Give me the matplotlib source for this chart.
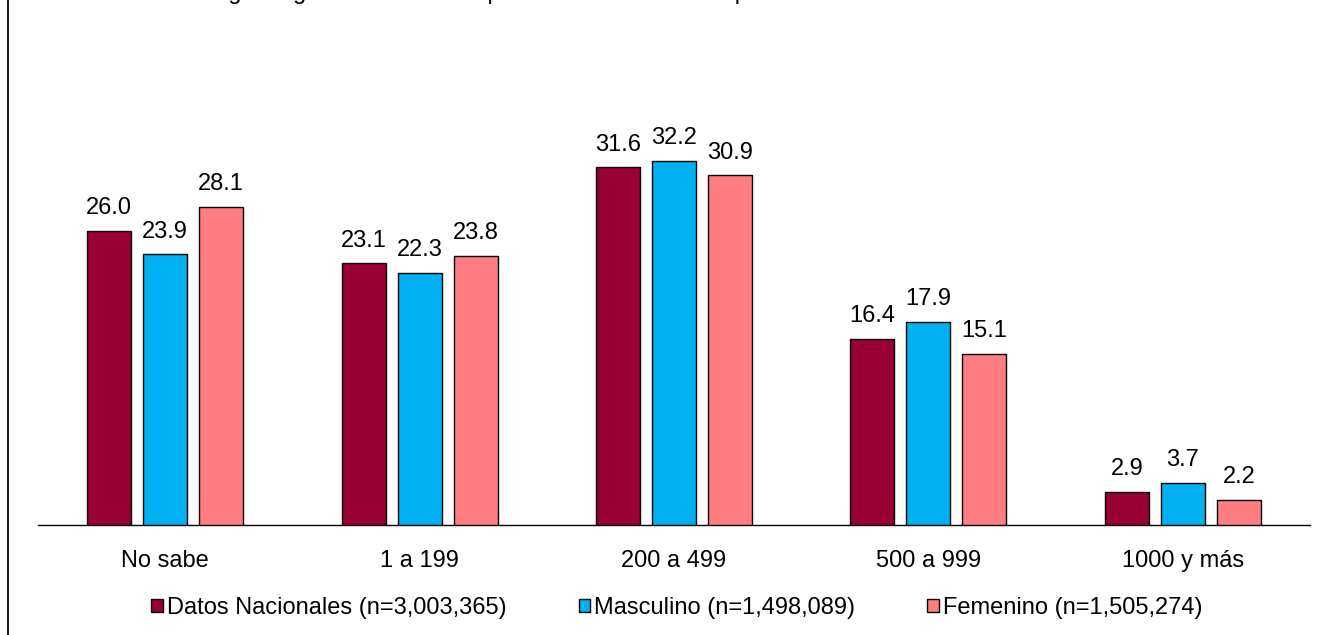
import matplotlib
matplotlib.use("Agg")
import matplotlib.pyplot as plt
from matplotlib.patches import Patch
from matplotlib.lines import Line2D
import numpy as np

plt.rcParams['font.family'] = ['Liberation Sans', 'DejaVu Sans']

categories = ["No sabe", "1 a 199", "200 a 499", "500 a 999", "1000 y más"]
series_names = [
    "Datos Nacionales (n=3,003,365)",
    "Masculino (n=1,498,089)",
    "Femenino (n=1,505,274)",
]
nacional = [26.0, 23.1, 31.6, 16.4, 2.9]
masculino = [23.9, 22.3, 32.2, 17.9, 3.7]
femenino = [28.1, 23.8, 30.9, 15.1, 2.2]
colors = ["#990033", "#00B0F0", "#FF7C80"]
title = "Distribución según ingreso mensual en pesos mexicanos de la población"

FS = 17
W, H = 1328, 635
fig = plt.figure(figsize=(W / 100, H / 100), dpi=100)

left, right, bottom_px, top_px = 38, 1310, 524.5, 72.5
ax = fig.add_axes([left / W, (H - bottom_px) / H,
                   (right - left) / W, (bottom_px - top_px) / H])

x = np.arange(len(categories))
width = 0.173
step = 0.22
series = [nacional, masculino, femenino]
for i, (vals, c) in enumerate(zip(series, colors)):
    pos = x + (i - 1) * step
    bars = ax.bar(pos, vals, width=width, color=c, edgecolor="black",
                  linewidth=1.0, zorder=3)
    for b, v in zip(bars, vals):
        ax.annotate(f"{v:.1f}", (b.get_x() + b.get_width() / 2, v),
                    xytext=(0, 8.5), textcoords="offset points",
                    ha="center", va="bottom", fontsize=FS)

ax.set_xlim(-0.5, len(categories) - 0.5)
ax.set_ylim(0, 40)
ax.set_xticks(x)
ax.set_xticklabels(categories, fontsize=FS)
# align category names on a common baseline (accents must not push text down)
ax.tick_params(axis="x", length=0, pad=30.5)
for lbl in ax.get_xticklabels():
    lbl.set_verticalalignment("baseline")
ax.set_yticks([])
for s in ["left", "right", "top"]:
    ax.spines[s].set_visible(False)
ax.spines["bottom"].set_linewidth(1.0)
ax.spines["bottom"].set_color("black")

handles = [Patch(facecolor=c, edgecolor="black", linewidth=1.0) for c in colors]
fig.legend(handles, series_names, loc="center", ncol=3, frameon=False,
           bbox_to_anchor=(677 / W, (H - 608) / H), fontsize=FS,
           handlelength=0.5, handleheight=0.5, handletextpad=0.17,
           columnspacing=3.05, borderpad=0, borderaxespad=0)

# Heading sits mostly above the top edge of the canvas
fig.text(73 / W, (H + 1) / H, title, fontsize=FS, ha="left", va="baseline")

fig.add_artist(Line2D([8 / W, 8 / W], [0, 1], color="black", linewidth=1.3,
                      transform=fig.transFigure))

fig.savefig("out.png", dpi=100, facecolor="white")
